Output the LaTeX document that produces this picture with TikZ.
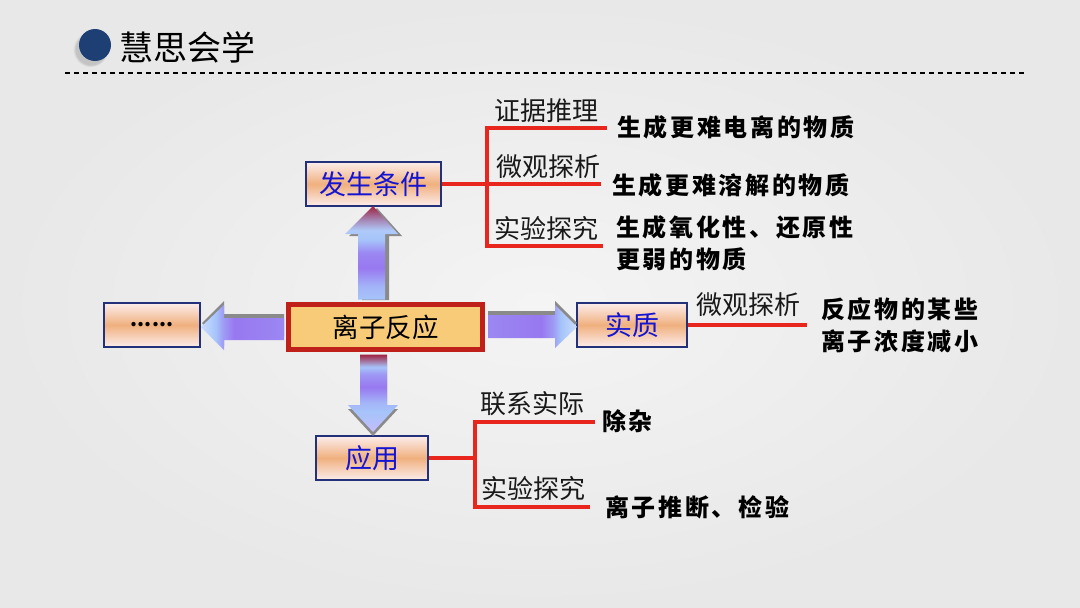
\documentclass[tikz,border=0pt]{standalone}
\usepackage{fontspec}
\setmainfont{Noto Sans CJK SC}
\newfontfamily\kb[LetterSpace=11]{Noto Sans CJK SC}
\usetikzlibrary{calc,shadows}
\definecolor{bgin}{HTML}{F4F4F4}
\definecolor{bgout}{HTML}{E8E8E8}
\definecolor{navy}{HTML}{1E3F73}
\definecolor{lred}{HTML}{E8261E}
\definecolor{boxblue}{HTML}{23317A}
\definecolor{txtblue}{HTML}{1414D2}
\definecolor{pinky}{HTML}{FCEDEC}
\definecolor{orng}{HTML}{F0B07E}
\definecolor{cfill}{HTML}{F8CB78}
\definecolor{cred}{HTML}{C0201A}
\definecolor{lblue}{HTML}{A6C4FA}
\definecolor{purp}{HTML}{9878F0}
\definecolor{maroon}{HTML}{A02040}
\definecolor{lav}{HTML}{C4BCFA}
\definecolor{shad}{HTML}{8A8A8A}
\pgfdeclareverticalshading{upshade}{100bp}{color(0bp)=(lblue); color(25bp)=(lblue); color(32bp)=(lblue!80!purp); color(42bp)=(purp); color(50bp)=(purp!80!lblue); color(57bp)=(lblue); color(62bp)=(lblue!90!white); color(68bp)=(lblue!60!maroon); color(75bp)=(maroon); color(100bp)=(maroon)}
\pgfdeclareverticalshading{downshade}{100bp}{color(0bp)=(lav); color(25bp)=(lav); color(38bp)=(lblue); color(44bp)=(lblue!80!purp); color(54bp)=(purp); color(62bp)=(purp!60!lblue); color(67bp)=(lblue); color(71bp)=(maroon!50!lblue); color(75bp)=(maroon); color(100bp)=(maroon)}
\pgfdeclarehorizontalshading{rshade}{100bp}{color(0bp)=(purp!80!lblue); color(25bp)=(purp!80!lblue); color(55bp)=(purp); color(62bp)=(purp!50!lblue); color(66bp)=(lblue); color(75bp)=(lblue!60!white); color(100bp)=(lblue!60!white)}
\pgfdeclarehorizontalshading{lshade}{100bp}{color(0bp)=(lblue!60!white); color(25bp)=(lblue!60!white); color(34bp)=(lblue); color(38bp)=(purp!50!lblue); color(45bp)=(purp); color(75bp)=(purp!80!lblue); color(100bp)=(purp!80!lblue)}
\tikzset{
  gbox/.style={draw=boxblue, line width=1.3pt, top color=pinky, bottom color=pinky, middle color=orng,
    minimum height=44pt, inner sep=0pt, text=txtblue, font=\fontsize{27}{30}\selectfont},
  cbox/.style={draw=cred, line width=5pt, fill=cfill, minimum width=194pt, minimum height=45pt,
    inner sep=0pt, font=\fontsize{26.5}{30}\selectfont},
  rl/.style={draw=lred, line width=3.5pt},
  lab/.style={inner sep=0pt, text=black!90, font=\fontsize{26}{30}\selectfont},
  bt/.style={inner sep=0pt, anchor=west, align=left, font=\kb\bfseries\fontsize{24}{32}\selectfont},
  ashadow/.style={fill=shad},
}
\begin{document}
\begin{tikzpicture}[x=1pt,y=-1pt]
\useasboundingbox (0,0) rectangle (1080,608);
\shade[inner color=bgin, outer color=bgout] (0,0) rectangle (1080,608);
% title
\fill[navy, circular drop shadow={shadow xshift=-4pt, shadow yshift=-4pt, opacity=0.35}] (95,45) circle (16);
\node[inner sep=0pt, font=\fontsize{34}{36}\selectfont, anchor=west] (title) at (119,47) {慧思会学};
\coordinate (hl) at (65,73);
\coordinate (hr) at (1025,73);
\draw[dash pattern=on 5pt off 4pt, line width=1.3pt] (hl) -- (hr);
% nodes
\node[cbox] (c) at (385.5,327) {离子反应};
\node[gbox, minimum width=135pt] (t) at (373.5,184) {发生条件};
\node[gbox, minimum width=96pt, text=black, font=\bfseries\fontsize{20}{24}\selectfont] (l) at (152,325) {......};
\node[gbox, minimum width=110pt] (r) at (632,325) {实质};
\node[gbox, minimum width=112pt] (b) at (372,458) {应用};
% block arrows (shadows first)
\fill[ashadow] (362,300) -- (362,236) -- (349,236) -- (377,208) -- (402,236) -- (389,236) -- (389,300) -- cycle;
\shade[shading=upshade] (358,299.5) -- (358,234) -- (345,234) -- (373,206) -- (398,234) -- (385,234) -- (385,299.5) -- cycle;
\fill[ashadow] (360,358) -- (360,409) -- (348,409) -- (373,436) -- (398,409) -- (387,409) -- (387,358) -- cycle;
\shade[shading=downshade] (360,354.5) -- (360,405) -- (348,405) -- (373,432) -- (398,405) -- (387,405) -- (387,354.5) -- cycle;
\fill[ashadow] (488,311) -- (555,311) -- (555,301) -- (577,323) -- (555,344) -- (555,334) -- (488,334) -- cycle;
\shade[shading=rshade] (488,315) -- (555,315) -- (555,305) -- (577,327) -- (555,348) -- (555,338) -- (488,338) -- cycle;
\fill[ashadow] (284,314) -- (224,314) -- (224,301) -- (202,323) -- (224,346) -- (224,336) -- (284,336) -- cycle;
\shade[shading=lshade] (284,318) -- (224,318) -- (224,305) -- (201,327) -- (224,350) -- (224,340) -- (284,340) -- cycle;
\node[cbox] at (c) {离子反应};
% branches of t
\coordinate (tj) at (487,184);
\coordinate (t1) at (607,128);
\coordinate (t2) at (601,184);
\coordinate (t3) at (603,246);
\draw[rl] (t.east) -- (t2);
\draw[rl] (t1) -- (t1 -| tj) -- (t3 -| tj) -- (t3);
\node[lab] (lt1) at (546,111) {证据推理};
\node[lab] (lt2) at (548,167) {微观探析};
\node[lab] (lt3) at (546,229) {实验探究};
\node[bt] (bt1) at (617,127) {生成更难电离的物质};
\node[bt] (bt2) at (612,185) {生成更难溶解的物质};
\node[bt, anchor=north west] (bt3) at (616,215) {生成氧化性、还原性\\更弱的物质};
% branch of r
\coordinate (r1) at (807,325);
\draw[rl] (r.east) -- (r1);
\node[lab] (lr1) at (748,305) {微观探析};
\node[bt, anchor=north west] (br1) at (821,297) {反应物的某些\\离子浓度减小};
% branches of b
\coordinate (bj) at (475,458);
\coordinate (b1) at (595,422);
\coordinate (b2) at (590,507);
\draw[rl] (b.east) -- (bj);
\draw[rl] (b1) -- (b1 -| bj) -- (b2 -| bj) -- (b2);
\node[lab] (lb1) at (532,404) {联系实际};
\node[lab] (lb2) at (533,489) {实验探究};
\node[bt] (bb1) at (602,421) {除杂};
\node[bt] (bb2) at (605,507) {离子推断、检验};
\end{tikzpicture}
\end{document}
